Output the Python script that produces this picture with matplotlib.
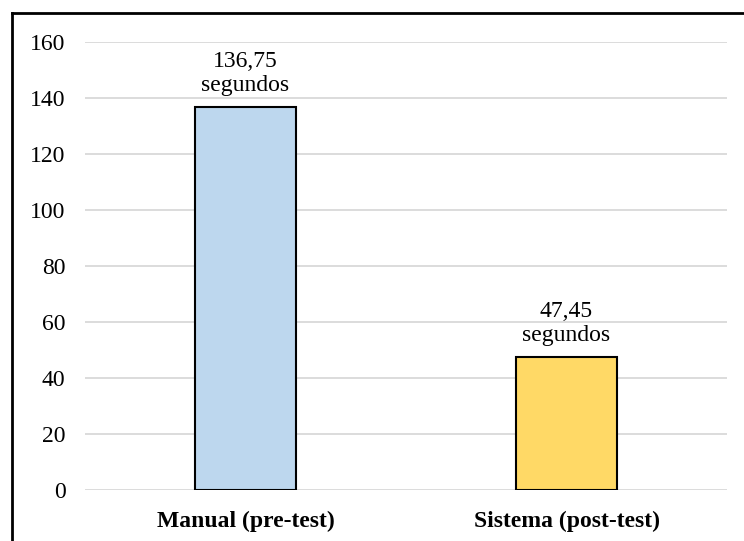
import matplotlib.pyplot as plt
from matplotlib.lines import Line2D

categories = ['Manual (pre-test)', 'Sistema (post-test)']
tiempos = [136.75, 47.45]
etiquetas = ['136,75\nsegundos', '47,45\nsegundos']
colores = ['#BDD7EE', '#FFD966']
y_ticks = [0, 20, 40, 60, 80, 100, 120, 140, 160]

plt.rcParams['font.family'] = ['Liberation Serif', 'DejaVu Serif']

W, H = 744, 541
fig = plt.figure(figsize=(W / 100, H / 100), dpi=100)
ax = fig.add_axes([85 / W, 1 - 490 / H, (727 - 85) / W, (490 - 42) / H])

pos = list(range(len(categories)))
bars = ax.bar(pos, tiempos, width=0.315, color=colores,
              edgecolor='black', linewidth=1.5, zorder=3)

for b, txt in zip(bars, etiquetas):
    ax.annotate(txt, (b.get_x() + b.get_width() / 2, b.get_height()),
                xytext=(0, 8), textcoords='offset points',
                ha='center', va='bottom', fontsize=17, linespacing=1.2)

ax.set_xlim(-0.5, 1.5)
ax.set_ylim(0, 160)
ax.set_yticks(y_ticks)
ax.set_xticks(pos)
ax.set_xticklabels(categories, fontweight='bold', fontsize=17)
ax.tick_params(axis='y', labelsize=17, length=0, pad=14)
ax.tick_params(axis='x', length=0, pad=15)
ax.grid(axis='y', color='#D9D9D9', linewidth=1.3, zorder=0)
for s in ax.spines.values():
    s.set_visible(False)

# chart border (cut off at right and bottom in the original)
fig.add_artist(Line2D([11.5 / W, 11.5 / W], [0, 1 - 12.5 / H],
                      color='black', linewidth=2, transform=fig.transFigure))
fig.add_artist(Line2D([11.5 / W, 1], [1 - 12.5 / H, 1 - 12.5 / H],
                      color='black', linewidth=2, transform=fig.transFigure))

fig.savefig('out.png', dpi=100)
